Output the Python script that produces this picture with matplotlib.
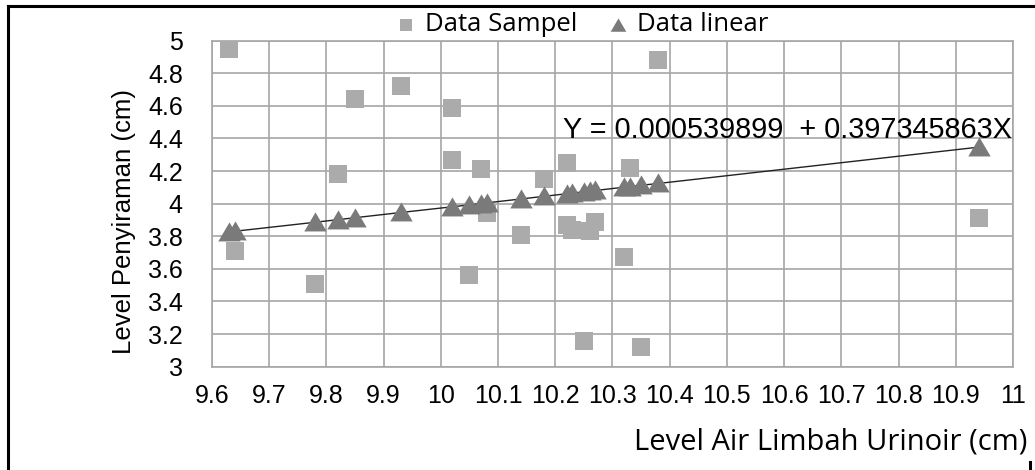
import matplotlib.pyplot as plt
from matplotlib.lines import Line2D

# data
x_sampel = [9.63, 9.64, 9.78, 9.82, 9.85, 9.93, 10.02, 10.02, 10.05, 10.07, 10.08, 10.14,
            10.18, 10.22, 10.22, 10.23, 10.25, 10.26, 10.27, 10.32, 10.33, 10.35, 10.38, 10.94]
y_sampel = [4.95, 3.71, 3.51, 4.18, 4.64, 4.72, 4.59, 4.27, 3.56, 4.21, 3.94, 3.81,
            4.15, 4.25, 3.87, 3.84, 3.16, 3.83, 3.89, 3.67, 4.22, 3.12, 4.88, 3.91]

x_linear = [9.63, 9.64, 9.78, 9.82, 9.85, 9.93, 10.02, 10.05, 10.07, 10.08, 10.14,
            10.18, 10.22, 10.23, 10.25, 10.26, 10.27, 10.32, 10.33, 10.35, 10.38, 10.94]
y_linear = [3.827, 3.831, 3.886, 3.902, 3.914, 3.946, 3.981, 3.993, 4.001, 4.005, 4.029,
            4.045, 4.061, 4.065, 4.073, 4.077, 4.081, 4.101, 4.105, 4.113, 4.124, 4.347]

x_ticks = [9.6, 9.7, 9.8, 9.9, 10, 10.1, 10.2, 10.3, 10.4, 10.5, 10.6, 10.7, 10.8, 10.9, 11]
x_ticklabels = ['9.6', '9.7', '9.8', '9.9', '10', '10.1', '10.2', '10.3', '10.4', '10.5',
                '10.6', '10.7', '10.8', '10.9', '11']
y_ticks = [3, 3.2, 3.4, 3.6, 3.8, 4, 4.2, 4.4, 4.6, 4.8, 5]
y_ticklabels = ['3', '3.2', '3.4', '3.6', '3.8', '4', '4.2', '4.4', '4.6', '4.8', '5']

equation = 'Y = 0.000539899  + 0.397345863X'

arial = 'Liberation Sans'
calibri = 'Open Sans'

fig = plt.figure(figsize=(10.35, 4.7), dpi=100)
ax = fig.add_axes([0.2048, 0.2198, 0.7739, 0.6936])

tri = [(-1, -0.8), (1, -0.8), (0, 0.9)]

ax.scatter(x_sampel, y_sampel, marker='s', s=150, color='#ababab', zorder=3,
           linewidths=0, label='Data Sampel')
ax.plot(x_linear, y_linear, color='#222222', linewidth=1.0, zorder=4)
ax.scatter(x_linear, y_linear, marker=tri, s=260, color='#7a7a7a', zorder=5,
           linewidths=0, label='Data linear')

ax.set_xlim(9.6, 11)
ax.set_ylim(3, 5)
ax.set_xticks(x_ticks)
ax.set_xticklabels(x_ticklabels, fontsize=18, family=arial)
ax.set_yticks(y_ticks)
ax.set_yticklabels(y_ticklabels, fontsize=18, family=arial)
ax.tick_params(length=0)
ax.tick_params(axis='x', pad=12.5)
ax.tick_params(axis='y', pad=21)
ax.grid(True, color='#a6a6a6', linewidth=1.2)
ax.set_axisbelow(True)
for s in ax.spines.values():
    s.set_color('#a6a6a6')
    s.set_linewidth(1.2)

ax.text(10.214, 4.452, equation, fontsize=20.8, family=arial, va='center', ha='left', zorder=6)

fig.text(124 / 1035, 1 - 222 / 470, 'Level Penyiraman (cm)', fontsize=18.5, family=arial,
         rotation=90, ha='center', va='center')
fig.text(0.993, 1 - 442 / 470, 'Level Air Limbah Urinoir (cm)', fontsize=21, family=calibri,
         ha='right', va='center')

fig.legend(loc='center', bbox_to_anchor=(0.563, 0.947), ncol=2, frameon=False,
           prop={'family': calibri, 'size': 18.5}, handlelength=0.7, handletextpad=0.4,
           columnspacing=1.2, markerscale=0.7)

# frame around the picture
fig.add_artist(Line2D([8 / 1035, 8 / 1035], [0, 1 - 6 / 470], color='black', linewidth=2.2))
fig.add_artist(Line2D([8 / 1035, 1], [1 - 6 / 470, 1 - 6 / 470], color='black', linewidth=2.2))
fig.add_artist(Line2D([1030 / 1035, 1030 / 1035], [0, 8 / 470], color='black', linewidth=2.2))

fig.savefig('out.png', dpi=100)
